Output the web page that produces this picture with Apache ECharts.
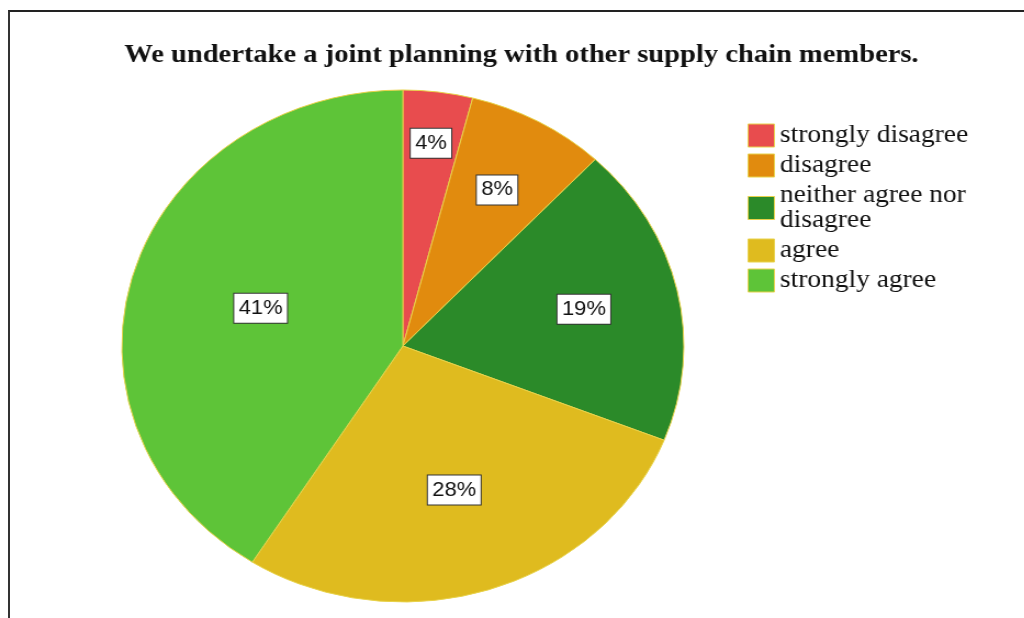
<!DOCTYPE html>
<html>
<head>
<meta charset="utf-8">
<title>Joint planning with supply chain members</title>
<script src="https://cdn.jsdelivr.net/npm/echarts@6/dist/echarts.min.js"></script>
<style>
  html, body { margin: 0; padding: 0; background: #fff; width: 1024px; height: 618px; overflow: hidden; }
  #frame { position: absolute; left: 8px; top: 10px; width: 1016px; height: 608px;
           border-top: 2px solid #222; border-left: 2px solid #333; box-sizing: border-box; }
  /* the chart is laid out at 933px and stretched to the full width */
  #chart { position: absolute; left: 0; top: 0; width: 933px; height: 618px;
           transform: scaleX(1.0977); transform-origin: 0 0; }
</style>
</head>
<body>
<div id="frame"></div>
<div id="chart"></div>
<script>
const titleText = 'We undertake a joint planning with other supply chain members.';
const categories = ['strongly disagree', 'disagree', 'neither agree nor\ndisagree', 'agree', 'strongly agree'];
const percents = [4, 8, 19, 28, 41];
const colors = ['#e84c4e', '#e18b0e', '#2b8a29', '#dfbb1f', '#5ec438'];

// where each slice's value box sits, as a fraction of the pie radius
const labelRadiusRatio = [0.78, 0.68, 0.645, 0.578, 0.515];

const pieCenter = [367, 346];
const pieRadius = 256;

const chart = echarts.init(document.getElementById('chart'), null, { renderer: 'canvas' });

chart.setOption({
  animation: false,
  backgroundColor: 'transparent',
  title: {
    text: titleText,
    left: 475,
    top: 42,
    textAlign: 'center',
    padding: 0,
    textStyle: {
      fontFamily: '"Liberation Serif", "Times New Roman", serif',
      fontWeight: 'bold',
      fontSize: 26,
      lineHeight: 26,
      color: '#111'
    }
  },
  legend: {
    orient: 'vertical',
    left: 681,
    top: 123,
    padding: 0,
    itemWidth: 24,
    itemHeight: 23,
    itemGap: 5,
    icon: 'rect',
    selectedMode: false,
    itemStyle: { borderColor: '#e8d24a', borderWidth: 1 },
    textStyle: {
      fontFamily: '"Liberation Serif", "Times New Roman", serif',
      fontSize: 25,
      lineHeight: 25,
      color: '#111'
    },
    data: categories
  },
  series: [{
    type: 'pie',
    center: pieCenter,
    radius: pieRadius,
    startAngle: 90,
    clockwise: true,
    silent: true,
    avoidLabelOverlap: false,
    itemStyle: { borderColor: '#e8d24a', borderWidth: 1 },
    label: {
      show: true,
      position: 'inside',
      formatter: '{c}%',
      fontFamily: '"Liberation Sans", Arial, sans-serif',
      fontSize: 20,
      color: '#111',
      backgroundColor: '#fff',
      borderColor: '#333',
      borderWidth: 1,
      padding: [5, 4, 4, 4]
    },
    // push each box outward along its slice's bisector
    labelLayout: function (params) {
      const r = params.labelRect;
      const lx = r.x + r.width / 2;
      const ly = r.y + r.height / 2;
      const k = labelRadiusRatio[params.dataIndex] / 0.5;
      return {
        x: pieCenter[0] + (lx - pieCenter[0]) * k,
        y: pieCenter[1] + (ly - pieCenter[1]) * k
      };
    },
    labelLine: { show: false },
    data: categories.map((name, i) => ({
      name: name,
      value: percents[i],
      itemStyle: { color: colors[i] }
    }))
  }]
});
</script>
</body>
</html>
